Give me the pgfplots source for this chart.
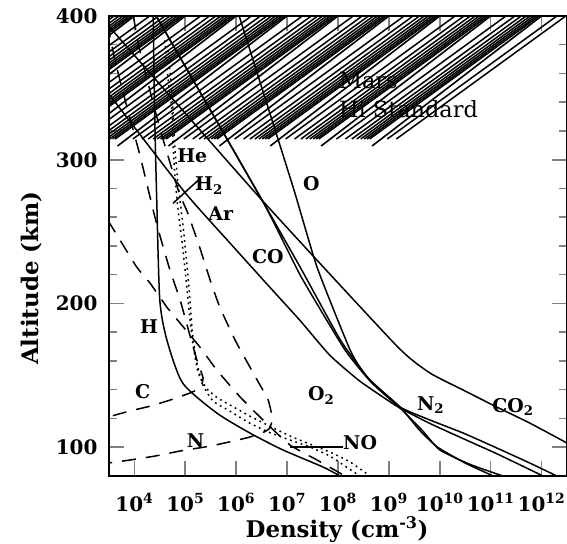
\documentclass[border=0pt]{standalone}
\usepackage{fontspec}
\setmainfont{DejaVu Serif}
\usepackage{pgfplots}
\usepackage{pgfplotstable}
\pgfplotsset{compat=1.18}

\tikzset{
  sol/.style={black, line width=1.5bp},
  dsh/.style={sol, dash pattern=on 14bp off 10bp},
  dotl/.style={sol, dash pattern=on 1.8bp off 3.8bp},
  lab/.style={font=\fontsize{19}{23}\selectfont\bfseries, inner sep=0pt, anchor=base west},
}

% columns: lx = log10 of density (cm^-3), alt = altitude (km)
\pgfplotstableread{
lx alt
3.33 400
3.52 392
6.51 271.8
9.16 170.3
9.81 151.6
10.46 139.8
11.12 128.0
11.77 116.8
12.50 102.9
12.60 100.0
}\tCOtwo
\pgfplotstableread{
lx alt
4.43 400
6.51 271.8
7.27 224.5
8.05 174.5
8.63 146.7
9.22 128.0
9.81 118.9
10.46 109.9
11.12 99.5
11.77 89.0
12.30 80
}\tNtwo
\pgfplotstableread{
lx alt
4.43 400
6.51 271.8
7.27 219
8.14 167.6
8.67 144.6
9.22 127.3
9.65 112
10.00 98.1
10.60 88
11.24 80
}\tCO
\pgfplotstableread{
lx alt
6.06 400
7.12 280.8
7.59 225.2
8.24 167.6
8.57 148.8
9.22 128
9.60 112
9.95 100.2
10.50 89
11.05 80
}\tO
\pgfplotstableread{
lx alt
3.49 346.2
4.99 277.4
5.88 242
6.67 211
7.25 188.4
7.84 164
8.43 146
9.16 128.5
9.81 116.5
10.46 106
11.12 95.5
12.03 80
}\tAr
\pgfplotstableread{
lx alt
4.37 400
4.40 330
4.44 271.8
4.50 202.3
4.64 174.5
4.95 144.6
5.62 123.8
6.27 109.9
6.92 98.1
7.71 86.2
8.04 80
}\tH
\pgfplotstableread{
lx alt
3.47 395
3.62 369.1
3.82 341.3
4.11 303.1
4.37 264.9
4.50 247.5
4.70 223.2
4.90 202.3
5.09 178
5.23 160.6
5.35 148.1
5.29 141.2
5.09 137.7
4.70 132.8
4.31 128.6
3.91 125.2
3.48 121
}\tC
\pgfplotstableread{
lx alt
3.48 257.9
3.72 244
4.05 225.2
4.31 214.1
4.64 197.4
4.90 186.3
5.29 169.6
5.62 153.7
6.08 134.9
6.57 117.5
7.06 101.5
7.59 91.1
8.14 80
}\tNO
\pgfplotstableread{
lx alt
3.98 400
4.10 377
4.30 349
4.50 322
4.70 298
4.88 277
5.05 262.8
5.29 238.4
5.49 216.2
5.68 197.4
5.98 174.5
6.25 157.1
6.47 143.2
6.63 132.8
6.71 120.3
6.66 113.4
6.55 110.6
6.27 107.1
5.94 104.3
5.49 100.8
4.90 97.4
4.41 93.9
3.91 91.1
3.48 89
}\tN
\pgfplotstableread{
lx alt
4.60 383
4.66 357
4.74 334
4.76 311
4.80 287
4.86 264.9
4.94 242
5.01 219
5.07 197
5.15 172
5.25 152.3
5.41 141.2
5.64 134.2
5.92 128.6
6.27 121.7
6.66 114.7
7.06 107.8
7.45 102.2
7.84 96.7
8.24 89.7
8.63 80
}\tHe
\pgfplotstableread{
lx alt
4.66 376
4.74 346
4.80 306
4.86 283
4.96 253
5.03 228
5.09 204
5.14 180
5.22 160
5.35 143
5.55 132
5.84 125.9
6.23 117.5
6.63 110.6
7.06 105
7.45 100.2
7.84 93.9
8.14 86.9
8.43 80
}\tHtwo
\pgfplotstableread{
lx alt
4.76 269.7
5.25 285.6
}\tPtrHtwo
\pgfplotstableread{
lx alt
7.06 100.2
8.10 100.2
}\tPtrNO

\begin{document}
\begin{tikzpicture}
\begin{axis}[
  at={(0,0)}, anchor=south west,
  scale only axis, width=458.1bp, height=460bp,
  xmin=3.5, xmax=12.5,
  ymin=80, ymax=400,
  xtick={4,5,6,7,8,9,10,11,12},
  xticklabels={10\textsuperscript{4},10\textsuperscript{5},10\textsuperscript{6},10\textsuperscript{7},10\textsuperscript{8},10\textsuperscript{9},10\textsuperscript{10},10\textsuperscript{11},10\textsuperscript{12}},
  ytick={100,200,300,400}, yticklabels={100,200,300,400},
  minor y tick num=4,
  major tick length=15bp, minor tick length=8bp,
  major tick style={line width=1.6bp},
  minor tick style={line width=1.5bp},
  axis line style={line width=2.2bp},
  tick label style={font=\fontsize{20}{24}\selectfont\bfseries},
  xticklabel style={yshift=-14bp},
  yticklabel style={xshift=-8bp},
  label style={font=\fontsize{23}{27}\selectfont\bfseries},
  xlabel={Density (cm\textsuperscript{-3})},
  ylabel={Altitude (km)},
  xlabel style={at={(axis description cs:0.498,-0.117)}, anchor=center},
  ylabel style={at={(axis description cs:-0.168,0.43)}, anchor=center},
]
% decade and 2..9 tick marks of the log density scale, bottom and top
\pgfplotsinvokeforeach{4,5,6,7,8,9,10,11,12}{
  \draw[line width=1.6bp] (axis cs:#1,80) -- ++(0,15bp);
  \draw[line width=1.6bp] (axis cs:#1,400) -- ++(0,-15bp);
}
\pgfplotsinvokeforeach{3.602,3.699,3.778,3.845,3.903,3.954,
    4.301,4.477,4.602,4.699,4.778,4.845,4.903,4.954,
    5.301,5.477,5.602,5.699,5.778,5.845,5.903,5.954,
    6.301,6.477,6.602,6.699,6.778,6.845,6.903,6.954,
    7.301,7.477,7.602,7.699,7.778,7.845,7.903,7.954,
    8.301,8.477,8.602,8.699,8.778,8.845,8.903,8.954,
    9.301,9.477,9.602,9.699,9.778,9.845,9.903,9.954,
    10.301,10.477,10.602,10.699,10.778,10.845,10.903,10.954,
    11.301,11.477,11.602,11.699,11.778,11.845,11.903,11.954,
    12.301,12.477}{
  \draw[line width=1.5bp] (axis cs:#1,80) -- ++(0,8bp);
  \draw[line width=1.5bp] (axis cs:#1,400) -- ++(0,-8bp);
}

\addplot[sol, smooth, tension=0.3] table[x=lx, y=alt] {\tCOtwo};
\addplot[sol, smooth, tension=0.3] table[x=lx, y=alt] {\tNtwo};
\addplot[sol, smooth, tension=0.3] table[x=lx, y=alt] {\tCO};
\addplot[sol, smooth, tension=0.3] table[x=lx, y=alt] {\tO};
\addplot[sol, smooth, tension=0.3] table[x=lx, y=alt] {\tAr};
\addplot[sol, smooth, tension=0.4] table[x=lx, y=alt] {\tH};
\addplot[dsh, smooth, tension=0.3] table[x=lx, y=alt] {\tC};
\addplot[dsh, smooth, tension=0.3] table[x=lx, y=alt] {\tNO};
\addplot[dsh, smooth, tension=0.3] table[x=lx, y=alt] {\tN};
\addplot[dotl, smooth, tension=0.3] table[x=lx, y=alt] {\tHe};
\addplot[dotl, smooth, tension=0.3] table[x=lx, y=alt] {\tHtwo};
\addplot[sol] table[x=lx, y=alt] {\tPtrHtwo};
\addplot[sol] table[x=lx, y=alt] {\tPtrNO};

\node[lab, font=\fontsize{22.5}{27}\selectfont] at (axis cs:8.02,349.6) {Mars};
\node[lab, font=\fontsize{22.5}{27}\selectfont] at (axis cs:8.02,329.5) {Hi Standard};
\node[lab] at (axis cs:4.84,298.2) {He};
\node[lab] at (axis cs:5.19,278.8) {H\textsubscript{2}};
\node[lab] at (axis cs:5.45,257.9) {Ar};
\node[lab] at (axis cs:7.31,278.8) {O};
\node[lab] at (axis cs:6.31,228) {CO};
\node[lab] at (axis cs:4.11,179.4) {H};
\node[lab] at (axis cs:4.01,134.2) {C};
\node[lab] at (axis cs:5.03,99.5) {N};
\node[lab] at (axis cs:7.41,132.8) {O\textsubscript{2}};
\node[lab] at (axis cs:8.10,98.1) {NO};
\node[lab] at (axis cs:9.55,125.9) {N\textsubscript{2}};
\node[lab] at (axis cs:11.03,124.5) {CO\textsubscript{2}};
\end{axis}
\pgfresetboundingbox
\path[use as bounding box] (-108.9bp,-68bp) rectangle (458.1bp,476bp);
\end{tikzpicture}
\end{document}
